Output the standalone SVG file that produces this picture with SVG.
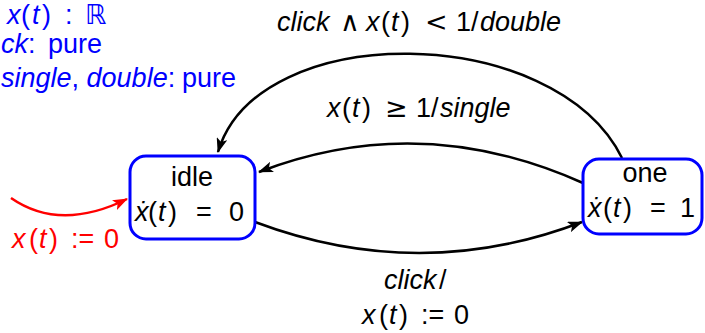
<svg xmlns="http://www.w3.org/2000/svg" width="705" height="333" viewBox="0 0 705 333">
<defs>
<style>
text{font-family:"Liberation Sans","DejaVu Sans",sans-serif;font-size:27px;}
.i{font-style:italic;}
.blue{fill:#0000ff;}
.red{fill:#ff0000;}
.box{fill:#ffffff;stroke:#0000ff;stroke-width:3;}
.edge{fill:none;stroke:#000000;stroke-width:2.5;}
.c{text-anchor:middle;}
.op{font-family:"DejaVu Sans","Liberation Sans",sans-serif;}
</style>
<marker id="ah" markerUnits="userSpaceOnUse" viewBox="0 0 15 11" refX="14" refY="5.5" markerWidth="15" markerHeight="11" orient="auto">
<path d="M0,0 L15,5.5 L0,11 L3.5,5.5 Z" fill="#000000"/>
</marker>
<marker id="ahr" markerUnits="userSpaceOnUse" viewBox="0 0 15 11" refX="14" refY="5.5" markerWidth="15" markerHeight="11" orient="auto">
<path d="M0,0 L15,5.5 L0,11 L3.5,5.5 Z" fill="#ff0000"/>
</marker>
</defs>
<rect width="705" height="333" fill="#ffffff"/>

<g id="declarations" class="blue">
<text y="24"><tspan x="7" class="i">x</tspan><tspan x="21">(</tspan><tspan x="32" class="i">t</tspan><tspan x="42">)</tspan><tspan x="65">:</tspan><tspan x="85">ℝ</tspan></text>
<text y="53"><tspan x="1" class="i">ck</tspan><tspan>:</tspan><tspan x="48">pure</tspan></text>
<text y="87"><tspan x="1" class="i">single</tspan><tspan>, </tspan><tspan class="i">double</tspan><tspan>:</tspan><tspan x="182">pure</tspan></text>
</g>

<g id="connectors">
<path class="edge" d="M622,158 C555,22 258,18 218,152" marker-end="url(#ah)"/>
<path class="edge" d="M583,183 Q420,110 259,172" marker-end="url(#ah)"/>
<path class="edge" d="M255,222 Q420,284 582,222" marker-end="url(#ah)"/>
<path d="M11,198 Q60,232 127,199" fill="none" stroke="#ff0000" stroke-width="2.5" marker-end="url(#ahr)"/>
<text y="31"><tspan x="277" class="i">click</tspan><tspan x="340" class="op">∧</tspan><tspan x="366" class="i">x</tspan><tspan x="381">(</tspan><tspan x="391" class="i">t</tspan><tspan x="401">)</tspan><tspan x="425" class="op">&lt;</tspan><tspan x="456">1</tspan><tspan x="471">/</tspan><tspan x="480" class="i">double</tspan></text>
<text y="117"><tspan x="327" class="i">x</tspan><tspan x="342">(</tspan><tspan x="352" class="i">t</tspan><tspan x="362">)</tspan><tspan x="385" class="op">≥</tspan><tspan x="416">1</tspan><tspan x="431">/</tspan><tspan x="440" class="i">single</tspan></text>
<text y="289"><tspan x="384" class="i">click</tspan><tspan x="439">/</tspan></text>
<text y="324"><tspan x="362" class="i">x</tspan><tspan x="379">(</tspan><tspan x="389" class="i">t</tspan><tspan x="399">)</tspan><tspan x="421">:=</tspan><tspan x="454">0</tspan></text>
<text class="red" y="248"><tspan x="12" class="i">x</tspan><tspan x="29">(</tspan><tspan x="39" class="i">t</tspan><tspan x="49">)</tspan><tspan x="71">:=</tspan><tspan x="104">0</tspan></text>
</g>

<g id="idle">
<rect class="box" x="130" y="156" width="125" height="83" rx="16"/>
<text class="c" x="192" y="186">idle</text>
<text y="221"><tspan x="135" class="i">ẋ</tspan><tspan x="148">(</tspan><tspan x="158" class="i">t</tspan><tspan x="168">)</tspan><tspan x="196">=</tspan><tspan x="229">0</tspan></text>
</g>

<g id="one">
<rect class="box" x="583" y="159" width="119" height="75" rx="16"/>
<text class="c" x="645" y="182">one</text>
<text y="217"><tspan x="588" class="i">ẋ</tspan><tspan x="603">(</tspan><tspan x="613" class="i">t</tspan><tspan x="623">)</tspan><tspan x="650">=</tspan><tspan x="680">1</tspan></text>
</g>
</svg>
